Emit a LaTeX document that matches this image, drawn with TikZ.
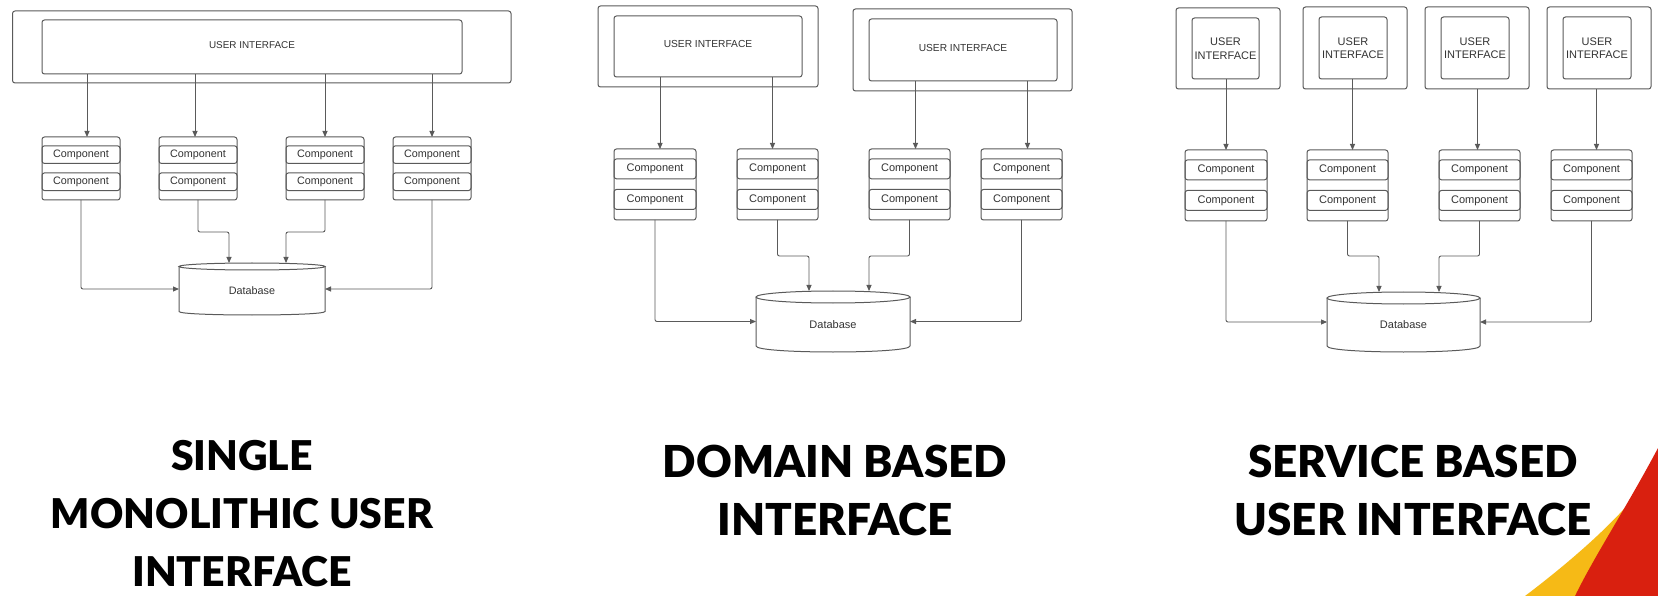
\documentclass[tikz,border=0pt]{standalone}
\usepackage{fontspec}
\setmainfont{Liberation Sans}
\newfontfamily\titlefont{Lato Black}
\usetikzlibrary{arrows.meta,calc}
\definecolor{ln}{HTML}{5A5A5A}
\definecolor{tx}{HTML}{333333}
\definecolor{swred}{HTML}{D9200F}
\definecolor{swyel}{HTML}{F6BA16}
\tikzset{
  box/.style={draw=ln, line width=1pt, rounded corners=2.5pt},
  uibox/.style={box, inner sep=0pt, outer sep=0pt, text=tx, align=center},
  stk/.style={box, inner sep=0pt, outer sep=0pt},
  rowbox/.style={box, inner sep=0pt, outer sep=0pt, text=tx},
  conn/.style={draw=ln, line width=0.9pt, rounded corners=2pt, -{Triangle[width=5pt,length=6pt]}},
  dbtext/.style={inner sep=0pt, outer sep=0pt, text=tx},
  ttl/.style={font=\titlefont\fontsize{44}{58}\selectfont, align=center, text=black}
}
% component stack: name, x1, y1, x2, y2, fontsize
\newcommand{\cstack}[6]{%
  \node[stk, minimum width={#4-#2}, minimum height={#5-#3}] (#1) at ({(#2+#4)/2},{(#3+#5)/2}) {};
  \node[rowbox, font=\fontsize{#6}{#6}\selectfont, minimum width={#4-#2}, minimum height={0.28*(#5-#3)}] (#1a) at ({(#2+#4)/2},{#3+0.28*(#5-#3)}) {Component};
  \node[rowbox, font=\fontsize{#6}{#6}\selectfont, minimum width={#4-#2}, minimum height={0.28*(#5-#3)}] (#1b) at ({(#2+#4)/2},{#3+0.71*(#5-#3)}) {Component};
}
% database: name, x1, ytop, x2, ybottom, ry, fontsize
\newcommand{\dbase}[7]{%
  \node[dbtext, font=\fontsize{#7}{#7}\selectfont, minimum width={#4-#2}, minimum height={#5-#3}] (#1) at ({(#2+#4)/2},{(#3+#5)/2}) {};
  \node[dbtext, font=\fontsize{#7}{#7}\selectfont] (#1t) at ({(#2+#4)/2},{(#3+#5)/2+#6/2}) {Database};
  \draw[box, rounded corners=0pt] ({(#2+#4)/2},{#3+#6}) ellipse [x radius={(#4-#2)/2}, y radius=#6];
  \draw[box, rounded corners=0pt] (#2,{#3+#6}) -- (#2,{#5-#6}) .. controls (#2,{#5+#6/3}) and (#4,{#5+#6/3}) .. (#4,{#5-#6}) -- (#4,{#3+#6});
}
% rectangle node by corners: name, x1, y1, x2, y2, style, text
\newcommand{\rbox}[7]{%
  \node[#6, minimum width={#4-#2}, minimum height={#5-#3}] (#1) at ({(#2+#4)/2},{(#3+#5)/2}) {#7};
}
\begin{document}
\begin{tikzpicture}[x=1pt,y=-1pt]
\useasboundingbox (0,0) rectangle (1658,596);
\fill[white] (0,0) rectangle (1658,596);

% ---------------- swoosh ----------------
\fill[swyel] (1525,596) .. controls (1570,562) and (1625,515) .. (1650,476) -- (1658,476) -- (1658,596) -- cycle;
\fill[swred] (1575,596) .. controls (1595,555) and (1625,510) .. (1658,448) -- (1658,596) -- cycle;

% ---------------- Panel 1 ----------------
\rbox{o1}{12.5}{11}{511}{83}{uibox}{}
\rbox{ui1}{42}{20}{462}{74}{uibox}{}
\node[text=tx, font=\fontsize{9.9}{11}\selectfont] (ui1t) at (252,45) {USER INTERFACE};
\cstack{c11}{42}{137}{120}{200}{10.8}
\cstack{c12}{159}{137}{237}{200}{10.8}
\cstack{c13}{286}{137}{364}{200}{10.8}
\cstack{c14}{393}{137}{471}{200}{10.8}
\dbase{db1}{179}{263}{325}{315}{3.5}{10.8}

\draw[conn] ([xshift=6pt]ui1.south -| c11.north) -- ([xshift=6pt]c11.north);
\draw[conn] ([xshift=-3pt]ui1.south -| c12.north) -- ([xshift=-3pt]c12.north);
\draw[conn] (ui1.south -| c13.north) -- (c13.north);
\draw[conn] (ui1.south -| c14.north) -- (c14.north);
\coordinate (m1a) at (229,232);
\coordinate (m1b) at (286,232);
\draw[conn] (c11.south) |- (db1.west);
\draw[conn] (c12.south) |- (m1a) -- (m1a |- db1.north);
\draw[conn] (c13.south) |- (m1b) -- (m1b |- db1.north);
\draw[conn] (c14.south) |- (db1.east);

% ---------------- Panel 2 ----------------
\rbox{o2a}{598}{6}{818}{87}{uibox}{}
\rbox{ui2a}{614}{16}{802}{77}{uibox}{}
\node[text=tx, font=\fontsize{10.2}{12}\selectfont] at (708,44) {USER INTERFACE};
\rbox{o2b}{853}{9}{1072}{91}{uibox}{}
\rbox{ui2b}{869}{19}{1057}{81}{uibox}{}
\node[text=tx, font=\fontsize{10.2}{12}\selectfont] at (963,48) {USER INTERFACE};
\cstack{c21}{614}{149}{696}{220}{11}
\cstack{c22}{737}{149}{818}{220}{11}
\cstack{c23}{869}{149}{950}{220}{11}
\cstack{c24}{981}{149}{1062}{220}{11}
\dbase{db2}{756}{291}{910}{352}{6}{11}

\draw[conn] ([xshift=5pt]ui2a.south -| c21.north) -- ([xshift=5pt]c21.north);
\draw[conn] ([xshift=-5pt]ui2a.south -| c22.north) -- ([xshift=-5pt]c22.north);
\draw[conn] ([xshift=6pt]ui2b.south -| c23.north) -- ([xshift=6pt]c23.north);
\draw[conn] ([xshift=6pt]ui2b.south -| c24.north) -- ([xshift=6pt]c24.north);
\coordinate (m2a) at (809,256);
\coordinate (m2b) at (869,256);
\draw[conn] (c21.south) |- (db2.west);
\draw[conn] (c22.south) |- (m2a) -- (m2a |- db2.north);
\draw[conn] (c23.south) |- (m2b) -- (m2b |- db2.north);
\draw[conn] (c24.south) |- (db2.east);

% ---------------- Panel 3 ----------------
\rbox{o31}{1176}{8}{1280}{89}{uibox}{}
\rbox{ui31}{1192}{18}{1259}{79}{uibox, font=\fontsize{11}{13.5}\selectfont}{USER\\INTERFACE}
\rbox{o32}{1303}{7}{1407}{89}{uibox}{}
\rbox{ui32}{1319}{17}{1387}{79}{uibox, font=\fontsize{11}{13.5}\selectfont}{USER\\INTERFACE}
\rbox{o33}{1425}{7}{1529}{89}{uibox}{}
\rbox{ui33}{1441}{17}{1509}{79}{uibox, font=\fontsize{11}{13.5}\selectfont}{USER\\INTERFACE}
\rbox{o34}{1547}{7}{1651}{89}{uibox}{}
\rbox{ui34}{1563}{17}{1631}{79}{uibox, font=\fontsize{11}{13.5}\selectfont}{USER\\INTERFACE}
\cstack{c31}{1185}{150}{1267}{221}{11}
\cstack{c32}{1307}{150}{1388}{221}{11}
\cstack{c33}{1439}{150}{1520}{221}{11}
\cstack{c34}{1551}{150}{1632}{221}{11}
\dbase{db3}{1327}{292}{1480}{352}{6}{11}

\draw[conn] (ui31.south -| c31.north) -- (c31.north);
\draw[conn] ([xshift=5pt]ui32.south -| c32.north) -- ([xshift=5pt]c32.north);
\draw[conn] ([xshift=-2pt]o33.south -| c33.north) -- ([xshift=-2pt]c33.north);
\draw[conn] ([xshift=5pt]o34.south -| c34.north) -- ([xshift=5pt]c34.north);
\coordinate (m3a) at (1379,256);
\coordinate (m3b) at (1439,256);
\draw[conn] (c31.south) |- (db3.west);
\draw[conn] (c32.south) |- (m3a) -- (m3a |- db3.north);
\draw[conn] (c33.south) |- (m3b) -- (m3b |- db3.north);
\draw[conn] (c34.south) |- (db3.east);

% ---------------- Titles ----------------
\node[ttl, font=\titlefont\fontsize{41}{58}\selectfont] (t1) at (242,514) {SINGLE\\MONOLITHIC USER\\INTERFACE};
\node[ttl] (t2) at (835,490) {DOMAIN BASED\\INTERFACE};
\node[ttl] (t3) at (1413,490) {SERVICE BASED\\USER INTERFACE};
\end{tikzpicture}
\end{document}
